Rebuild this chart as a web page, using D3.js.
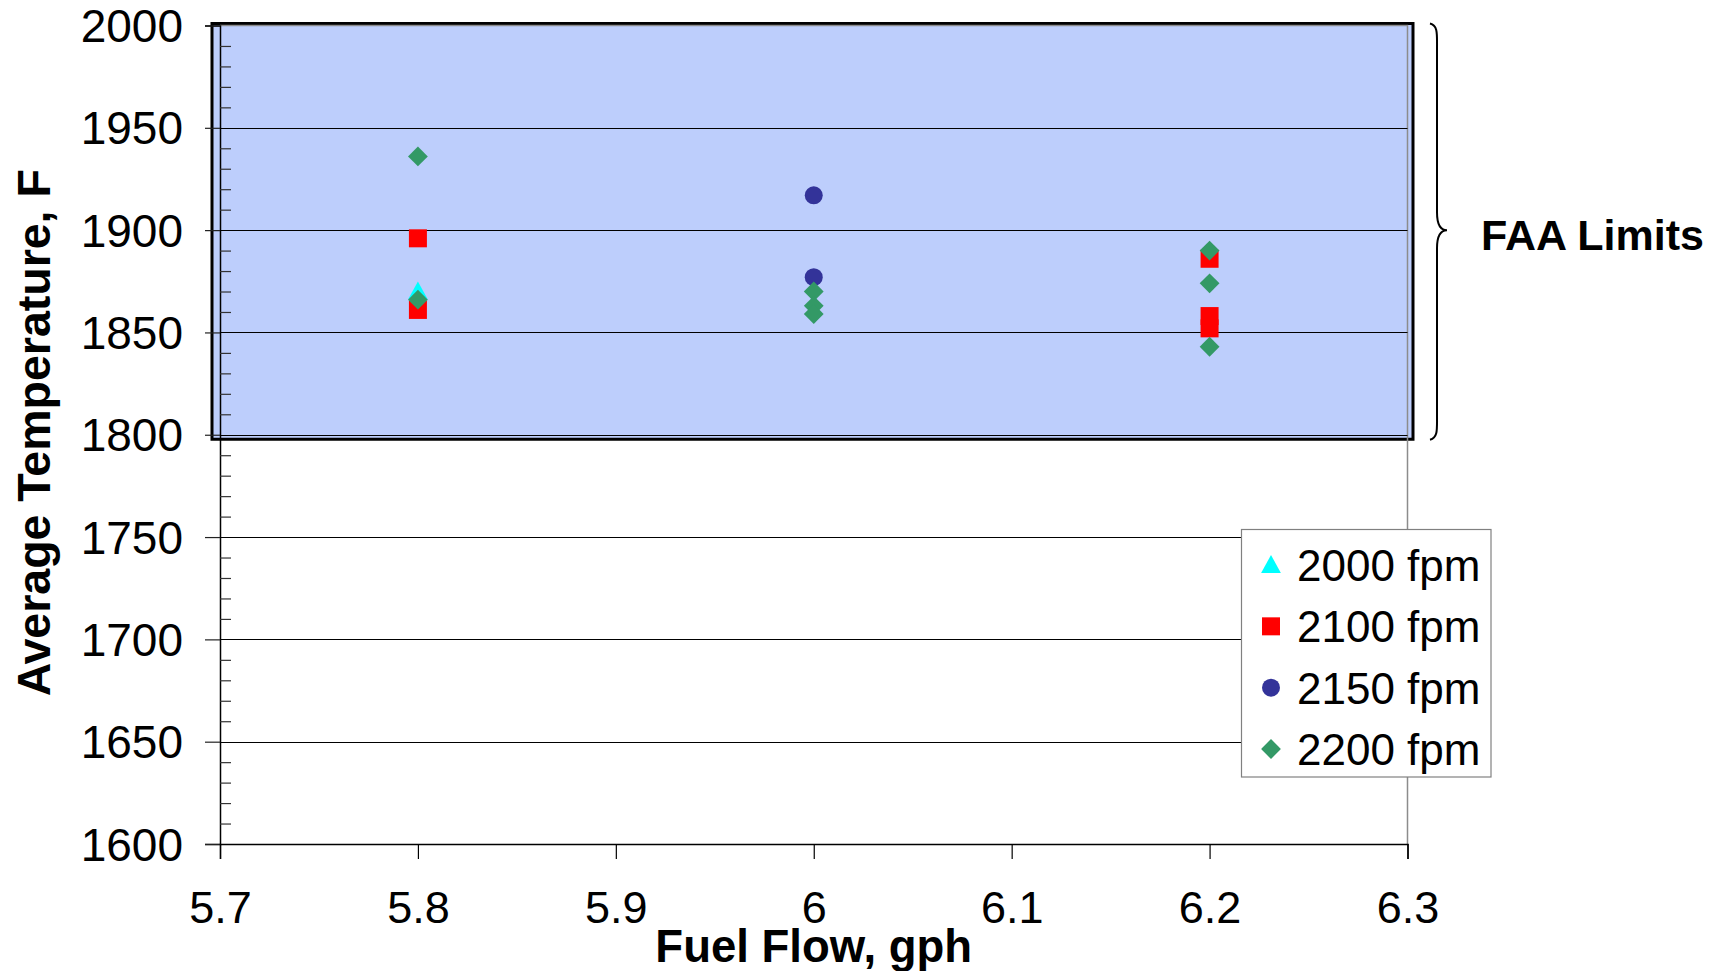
<!DOCTYPE html>
<html>
<head>
<meta charset="utf-8">
<script src="https://cdn.jsdelivr.net/npm/d3@7"></script>
<style>
  html, body { margin: 0; padding: 0; background: #fff; }
  svg { display: block; font-family: "Liberation Sans", Arial, sans-serif; }
</style>
</head>
<body>
<svg id="chart" width="1711" height="971"></svg>
<script>
// Exhaust temperature vs. fuel flow, grouped by climb rate
const seriesNames = ["2000 fpm", "2100 fpm", "2150 fpm", "2200 fpm"];
const seriesColors = ["#00FFFF", "#FF0000", "#333399", "#339966"];
const seriesSymbols = ["triangle", "square", "circle", "diamond"];

const fuel2000 = [5.8];
const temp2000 = [1870];

const fuel2100 = [5.8, 5.8, 6.2, 6.2, 6.2];
const temp2100 = [1896, 1861, 1886, 1858, 1852];

const fuel2150 = [6.0, 6.0];
const temp2150 = [1917, 1877];

const fuel2200 = [5.8, 5.8, 6.0, 6.0, 6.0, 6.2, 6.2, 6.2];
const temp2200 = [1936, 1866, 1870, 1863, 1859, 1890, 1874, 1843];

const xTicks = [5.7, 5.8, 5.9, 6.0, 6.1, 6.2, 6.3];
const xTickLabels = ["5.7", "5.8", "5.9", "6", "6.1", "6.2", "6.3"];
const yTicks = [1600, 1650, 1700, 1750, 1800, 1850, 1900, 1950, 2000];
const yMinorStep = 10;

const faaLimits = [1800, 2000];
const faaLabel = "FAA Limits";
const xTitle = "Fuel Flow, gph";
const yTitle = "Average Temperature, F";

const fuelSeries = [fuel2000, fuel2100, fuel2150, fuel2200];
const tempSeries = [temp2000, temp2100, temp2150, temp2200];

const svg = d3.select("#chart");

const plotLeft = 220, plotRight = 1407.5, plotTop = 25.5, plotBottom = 844;
const x = d3.scaleLinear().domain([5.7, 6.3]).range([plotLeft, plotRight]);
const y = d3.scaleLinear().domain([1600, 2000]).range([plotBottom, plotTop]);

// Shaded band for the FAA temperature limits
svg.append("rect")
  .attr("x", x(5.7) - 8)
  .attr("y", y(faaLimits[1]) - 2)
  .attr("width", x(6.3) - x(5.7) + 13.5)
  .attr("height", y(faaLimits[0]) - y(faaLimits[1]) + 6.5)
  .attr("fill", "#BDCEFC")
  .attr("stroke", "#000")
  .attr("stroke-width", 3);

// Plot frame (top and right)
svg.append("path")
  .attr("d", `M${plotLeft},${plotTop}H${plotRight}V${plotBottom}`)
  .attr("fill", "none")
  .attr("stroke", "#8c8c8c")
  .attr("stroke-width", 1.5);

// Horizontal gridlines
svg.append("g").selectAll("line")
  .data(yTicks.filter(v => v > 1600 && v < 2000))
  .join("line")
  .attr("x1", plotLeft).attr("x2", plotRight)
  .attr("y1", d => Math.round(y(d)) + 0.5).attr("y2", d => Math.round(y(d)) + 0.5)
  .attr("stroke", "#000")
  .attr("stroke-width", 1);

// Y axis: major ticks outside, minor ticks inside
const yMinor = d3.range(1600, 2000 + 0.001, yMinorStep).filter(v => v % 50 !== 0);
const yAxisMajor = d3.axisLeft(y).tickValues(yTicks).tickSize(15).tickFormat(d3.format("d")).tickPadding(22);
const gy = svg.append("g").attr("transform", `translate(${plotLeft},0)`).call(yAxisMajor);
gy.select(".domain").attr("stroke", "#000").attr("stroke-width", 1.5);
gy.selectAll(".tick line").attr("stroke", "#222").attr("stroke-width", 1.2);
gy.selectAll(".tick text")
  .attr("font-size", 46)
  .attr("fill", "#000")
  .attr("font-family", "Liberation Sans, Arial, sans-serif")
  .attr("dy", "0.35em");

svg.append("g").attr("transform", `translate(${plotLeft},0)`)
  .call(d3.axisRight(y).tickValues(yMinor).tickSize(11).tickFormat(""))
  .call(g => g.select(".domain").remove())
  .call(g => g.selectAll(".tick line").attr("stroke", "#333").attr("stroke-width", 1.2));

// X axis
const gx = svg.append("g").attr("transform", `translate(0,${plotBottom})`)
  .call(d3.axisBottom(x).tickValues(xTicks).tickSize(15)
    .tickFormat((d, i) => xTickLabels[i]).tickPadding(32));
gx.select(".domain").attr("stroke", "#000").attr("stroke-width", 1.5);
gx.selectAll(".tick line").attr("stroke", "#000").attr("stroke-width", 1.2);
gx.selectAll(".tick text")
  .attr("font-size", 45)
  .attr("fill", "#000")
  .attr("font-family", "Liberation Sans, Arial, sans-serif");

// Axis titles
svg.append("text")
  .attr("x", (plotLeft + plotRight) / 2)
  .attr("y", 962)
  .attr("text-anchor", "middle")
  .attr("font-size", 45.5)
  .attr("font-weight", "bold")
  .text(xTitle);

svg.append("text")
  .attr("transform", `translate(50,${(plotTop + plotBottom) / 2 - 2}) rotate(-90)`)
  .attr("text-anchor", "middle")
  .attr("font-size", 46.5)
  .attr("font-weight", "bold")
  .text(yTitle);

// Markers
const symbolPaths = {
  triangle: s => `M0,${-s * 0.55}L${s * 0.55},${s * 0.45}L${-s * 0.55},${s * 0.45}Z`,
  square: s => `M${-s / 2},${-s / 2}h${s}v${s}h${-s}Z`,
  circle: s => d3.symbol(d3.symbolCircle, Math.PI * (s / 2) * (s / 2))(),
  diamond: s => `M0,${-s * 0.55}L${s * 0.55},0L0,${s * 0.55}L${-s * 0.55},0Z`
};
const markerSize = 18;

fuelSeries.forEach((fuels, si) => {
  const pts = fuels.map((f, i) => ({ f, t: tempSeries[si][i] }));
  svg.append("g").selectAll("path")
    .data(pts)
    .join("path")
    .attr("transform", d => `translate(${x(d.f)},${y(d.t)})`)
    .attr("d", symbolPaths[seriesSymbols[si]](markerSize))
    .attr("fill", seriesColors[si]);
});

// Brace and label for the limit band
const bTop = y(faaLimits[1]) - 2, bBot = y(faaLimits[0]) + 5, bMid = y(1900);
const bx0 = 1430, bx1 = 1437, bTip = 1447;
const brace = d3.path();
brace.moveTo(bx0, bTop);
brace.bezierCurveTo(bx1 + 1, bTop + 2, bx1, bTop + 10, bx1, bTop + 25);
brace.lineTo(bx1, bMid - 18);
brace.bezierCurveTo(bx1, bMid - 6, bx1 + 4, bMid, bTip, bMid);
brace.bezierCurveTo(bx1 + 4, bMid, bx1, bMid + 6, bx1, bMid + 18);
brace.lineTo(bx1, bBot - 25);
brace.bezierCurveTo(bx1, bBot - 10, bx1 + 1, bBot - 2, bx0, bBot);
svg.append("path")
  .attr("d", brace.toString())
  .attr("fill", "none")
  .attr("stroke", "#000")
  .attr("stroke-width", 2);

svg.append("text")
  .attr("x", 1481)
  .attr("y", 250)
  .attr("font-size", 43)
  .attr("font-weight", "bold")
  .text(faaLabel);

// Legend
const legend = svg.append("g");
legend.append("rect")
  .attr("x", 1241.5).attr("y", 529.5)
  .attr("width", 1491 - 1241.5).attr("height", 777 - 529.5)
  .attr("fill", "#fff")
  .attr("stroke", "#808080")
  .attr("stroke-width", 1.2);
const rowY = d3.scalePoint().domain(seriesNames).range([565, 749]);
seriesNames.forEach((name, i) => {
  legend.append("path")
    .attr("transform", `translate(1271,${rowY(name)})`)
    .attr("d", symbolPaths[seriesSymbols[i]](markerSize))
    .attr("fill", seriesColors[i]);
  legend.append("text")
    .attr("x", 1297)
    .attr("y", rowY(name) + 16)
    .attr("font-size", 44)
    .text(name);
});
</script>
</body>
</html>
